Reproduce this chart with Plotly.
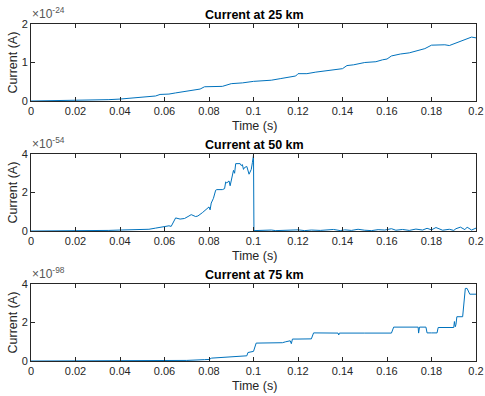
import plotly.graph_objects as go

# ---------------- data (mantissas; multipliers shown as axis exponent) ----------------
t_25 = [0, 0.01, 0.02, 0.025, 0.03, 0.035, 0.04, 0.045, 0.05, 0.054, 0.056, 0.058, 0.062, 0.065,
        0.07, 0.074, 0.076, 0.078, 0.082, 0.086, 0.09, 0.095, 0.1, 0.105, 0.108, 0.112, 0.116,
        0.119, 0.12, 0.124, 0.128, 0.132, 0.136, 0.14, 0.142, 0.145, 0.15, 0.155, 0.158, 0.16,
        0.162, 0.166, 0.17, 0.174, 0.177, 0.18, 0.183, 0.186, 0.188, 0.192, 0.196, 0.198, 0.2]
i_25 = [0.0, 0.005, 0.01, 0.02, 0.025, 0.035, 0.05, 0.07, 0.09, 0.11, 0.13, 0.17, 0.18, 0.21,
        0.25, 0.29, 0.31, 0.37, 0.37, 0.38, 0.45, 0.47, 0.51, 0.53, 0.54, 0.58, 0.61,
        0.65, 0.71, 0.71, 0.75, 0.78, 0.81, 0.84, 0.92, 0.94, 1.0, 1.02, 1.07, 1.09,
        1.17, 1.22, 1.25, 1.31, 1.36, 1.45, 1.46, 1.46, 1.44, 1.52, 1.62, 1.66, 1.64]

t_50 = [0, 0.01, 0.02, 0.03, 0.035, 0.04, 0.045, 0.05, 0.053, 0.056, 0.058, 0.06, 0.062, 0.063,
        0.064, 0.065, 0.067, 0.069, 0.071, 0.072, 0.074, 0.075, 0.077, 0.078, 0.079, 0.08,
        0.0805, 0.081, 0.082, 0.083, 0.0835, 0.086, 0.087, 0.0875, 0.088, 0.089, 0.0895,
        0.0905, 0.091, 0.0915, 0.092, 0.094, 0.0945, 0.095, 0.0955, 0.096, 0.097, 0.098,
        0.099, 0.0995, 0.1, 0.1002,
        0.102, 0.105, 0.108, 0.11, 0.113, 0.116, 0.12, 0.123, 0.126, 0.13, 0.133, 0.136, 0.139,
        0.141, 0.144, 0.147, 0.15, 0.153, 0.156, 0.159, 0.162, 0.164, 0.167, 0.17, 0.173,
        0.176, 0.178, 0.18, 0.182, 0.185, 0.188, 0.19, 0.191, 0.193, 0.195, 0.196, 0.198, 0.2]
i_50 = [0.0, 0.0, 0.01, 0.02, 0.03, 0.05, 0.06, 0.06, 0.09, 0.15, 0.2, 0.25, 0.27, 0.24,
        0.45, 0.68, 0.62, 0.65, 0.78, 0.85, 0.75, 0.78, 0.95, 1.05, 1.12, 1.25,
        1.1, 1.45, 1.7, 2.12, 2.15, 2.15, 2.2, 2.55, 2.5, 2.6, 2.35,
        3.0, 3.15, 3.0, 3.5, 3.5, 3.4, 3.45, 3.2, 3.3, 3.35, 2.95,
        3.2, 3.55, 3.95, 0.02,
        0.03, 0.02, 0.05, 0.02, 0.04, 0.03, 0.06, 0.02, 0.05, 0.03, 0.04, 0.08, 0.02,
        0.06, 0.03, 0.09, 0.04, 0.02, 0.07, 0.05, 0.12, 0.04, 0.08, 0.03, 0.1,
        0.05, 0.14, 0.06, 0.18, 0.04, 0.09, 0.03, 0.12, 0.2, 0.07, 0.2, 0.05, 0.15]

t_75 = [0, 0.02, 0.04, 0.06, 0.07, 0.078, 0.08, 0.0812, 0.085, 0.09, 0.094, 0.096, 0.097,
        0.0975, 0.0995, 0.1, 0.1012, 0.105, 0.11, 0.113, 0.1145, 0.116, 0.1165, 0.117,
        0.1172, 0.1175, 0.12, 0.126, 0.127, 0.138, 0.1383, 0.1386, 0.15, 0.162, 0.163,
        0.17, 0.174, 0.1742, 0.1746, 0.1775, 0.178, 0.18, 0.1825, 0.183, 0.19, 0.1903,
        0.1907, 0.191, 0.1914, 0.194, 0.1952, 0.196, 0.1972, 0.2]
i_75 = [0.0, 0.0, 0.0, 0.01, 0.03, 0.07, 0.08, 0.15, 0.17, 0.21, 0.24, 0.26, 0.27,
        0.44, 0.46, 0.5, 0.93, 0.93, 0.94, 0.95, 1.0, 1.02, 1.05, 0.9,
        1.0, 1.14, 1.14, 1.15, 1.46, 1.45, 1.35, 1.45, 1.45, 1.45, 1.76,
        1.76, 1.76, 1.45, 1.76, 1.76, 1.46, 1.46, 1.46, 1.74, 1.74, 2.05,
        1.78, 1.9, 2.3, 2.3, 3.77, 3.77, 3.47, 3.47]

titles = ["Current at 25 km", "Current at 50 km", "Current at 75 km"]
exponents = ["-24", "-54", "-98"]
y_ticks = [[0, 1, 2], [0, 2, 4], [0, 2, 4]]
y_ranges = [[0, 2], [0, 4], [0, 4]]
x_ticks = [0, 0.02, 0.04, 0.06, 0.08, 0.1, 0.12, 0.14, 0.16, 0.18, 0.2]
x_ticktext = ["0", "0.02", "0.04", "0.06", "0.08", "0.1", "0.12", "0.14", "0.16", "0.18", "0.2"]
series = [(t_25, i_25), (t_50, i_50), (t_75, i_75)]

# ---------------- layout ----------------
W, H = 485, 396
x_dom = [31 / W, 476 / W]
panels_px = [(24, 101), (154, 231), (284, 361)]  # top, bottom in px
ink = "#262626"
font = "Liberation Sans, Arial, Helvetica, sans-serif"

fig = go.Figure()
layout = dict(
    width=W, height=H, margin=dict(l=0, r=0, t=0, b=0, autoexpand=False),
    paper_bgcolor="white", plot_bgcolor="white", showlegend=False,
    font=dict(family=font, size=11, color=ink),
)
annotations = []
for k, ((tx, iy), (top, bot)) in enumerate(zip(series, panels_px)):
    sfx = "" if k == 0 else str(k + 1)
    fig.add_trace(go.Scatter(x=tx, y=iy, mode="lines",
                             line=dict(color="#0072BD", width=1),
                             xaxis="x" + sfx, yaxis="y" + sfx, hoverinfo="skip"))
    ydom = [1 - bot / H, 1 - top / H]
    layout["xaxis" + sfx] = dict(
        domain=x_dom, anchor="y" + sfx, range=[0, 0.2], tickvals=x_ticks, ticktext=x_ticktext,
        ticks="inside", ticklen=4, tickwidth=0.8, tickcolor=ink, showline=True, linecolor=ink,
        linewidth=0.8, mirror="ticks", showgrid=False, zeroline=False, automargin=False,
        tickfont=dict(size=11, color=ink),
    )
    layout["yaxis" + sfx] = dict(
        domain=ydom, anchor="x" + sfx, range=y_ranges[k], tickvals=y_ticks[k],
        ticks="inside", ticklen=4, tickwidth=0.8, tickcolor=ink, showline=True, linecolor=ink,
        linewidth=0.8, mirror="ticks", showgrid=False, zeroline=False, automargin=False,
        tickfont=dict(size=11, color=ink),
    )
    # title
    annotations.append(dict(text="<b>" + titles[k] + "</b>", xref="paper", yref="paper",
                            x=254 / W, y=1 - (top - 9) / H, showarrow=False,
                            font=dict(size=12.5, color="black"), xanchor="center", yanchor="middle"))
    # x label
    annotations.append(dict(text="Time (s)", xref="paper", yref="paper",
                            x=254 / W, y=1 - (bot + 25) / H, showarrow=False,
                            font=dict(size=12.5, color=ink), xanchor="center", yanchor="middle"))
    # y label
    annotations.append(dict(text="Current (A)", xref="paper", yref="paper", textangle=-90,
                            x=12 / W, y=1 - ((top + bot) / 2) / H, showarrow=False,
                            font=dict(size=12.5, color=ink), xanchor="center", yanchor="middle"))
    # exponent
    annotations.append(dict(text="×10<sup>" + exponents[k] + "</sup>", xref="paper", yref="paper",
                            x=30 / W, y=1 - (top - 1) / H, showarrow=False,
                            font=dict(size=12, color="#555555"), xanchor="left", yanchor="bottom"))
layout["annotations"] = annotations
fig.update_layout(**layout)
fig.write_html("out.html", config={"displayModeBar": False},
               post_script="document.body.style.margin='0px';document.body.style.overflow='hidden';")
